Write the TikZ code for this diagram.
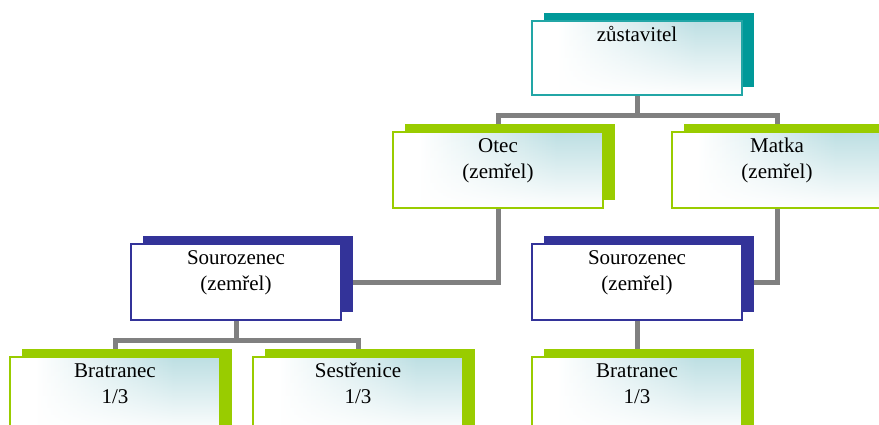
\documentclass[tikz,border=0pt]{standalone}
\usepackage{fontspec}
\setmainfont{Liberation Serif}
\usetikzlibrary{backgrounds,fadings,calc}
\definecolor{tealS}{HTML}{009999}
\definecolor{tealB}{HTML}{22A6A6}
\definecolor{greenC}{HTML}{99CC00}
\definecolor{blueC}{HTML}{333399}
\definecolor{tealL}{HTML}{BDDFE3}
\definecolor{grayC}{HTML}{808080}
\pgfdeclarehorizontalshading{boxh}{100bp}{color(0bp)=(white); color(25bp)=(white); color(31bp)=(white); color(64bp)=(tealL); color(100bp)=(tealL)}
\tikzfading[name=fadebottom, top color=transparent!100, middle color=transparent!85, bottom color=transparent!0]
\newcommand\bxt[2]{\parbox[t][#1][t]{210pt}{\centering\rule{0pt}{20.5pt}#2}}
\newcommand\shadowof[2]{\fill[#2] ([shift={(11.5pt,8pt)}]#1.south west) rectangle ([shift={(11.5pt,8pt)}]#1.north east);}
\tikzset{
  box/.style={rectangle, inner sep=0pt, outer sep=0pt, line width=1.6pt, font=\fontsize{21}{26}\selectfont},
  grad/.style={path picture={
      \shade[shading=boxh] (path picture bounding box.south west) rectangle (path picture bounding box.north east);
      \fill[white, path fading=fadebottom] (path picture bounding box.south west) rectangle (path picture bounding box.north east);}},
  tealbox/.style={box, draw=tealB, grad},
  greenbox/.style={box, draw=greenC, grad},
  bluebox/.style={box, draw=blueC, fill=white},
  conn/.style={draw=grayC, line width=5pt},
}
\begin{document}
\begin{tikzpicture}[x=1pt, y=-1pt]
\useasboundingbox (0,0) rectangle (879,425);
\clip (0,0) rectangle (879,425);
% boxes
\node[tealbox]  (z)     at (637,58)  {\bxt{74pt}{zůstavitel}};
\node[greenbox] (otec)  at (498,170) {\bxt{76pt}{Otec\\(zemřel)}};
\node[greenbox] (matka) at (777,170) {\bxt{76pt}{Matka\\(zemřel)}};
\node[bluebox]  (sl)    at (236,282) {\bxt{76pt}{Sourozenec\\(zemřel)}};
\node[bluebox]  (sr)    at (637,282) {\bxt{76pt}{Sourozenec\\(zemřel)}};
\node[greenbox] (bl)    at (115,395) {\bxt{76pt}{Bratranec\\1/3}};
\node[greenbox] (se)    at (358,395) {\bxt{76pt}{Sestřenice\\1/3}};
\node[greenbox] (br)    at (637,395) {\bxt{76pt}{Bratranec\\1/3}};
\coordinate (b1) at (637,116);
\coordinate (b2) at (236,340);
\begin{scope}[on background layer]
  \fill[white] (0,0) rectangle (879,425);
  \draw[conn] (z.south) -- (b1) -| (otec.north);
  \draw[conn] (b1) -| (matka.north);
  \draw[conn] (otec.south) |- (sl.east);
  \draw[conn] (matka.south) |- (sr.east);
  \draw[conn] (sl.south) -- (b2) -| (bl.north);
  \draw[conn] (b2) -| (se.north);
  \draw[conn] (sr.south) -- (br.north);
  \shadowof{z}{tealS}
  \shadowof{otec}{greenC}
  \shadowof{matka}{greenC}
  \shadowof{sl}{blueC}
  \shadowof{sr}{blueC}
  \shadowof{bl}{greenC}
  \shadowof{se}{greenC}
  \shadowof{br}{greenC}
\end{scope}
\end{tikzpicture}
\end{document}
